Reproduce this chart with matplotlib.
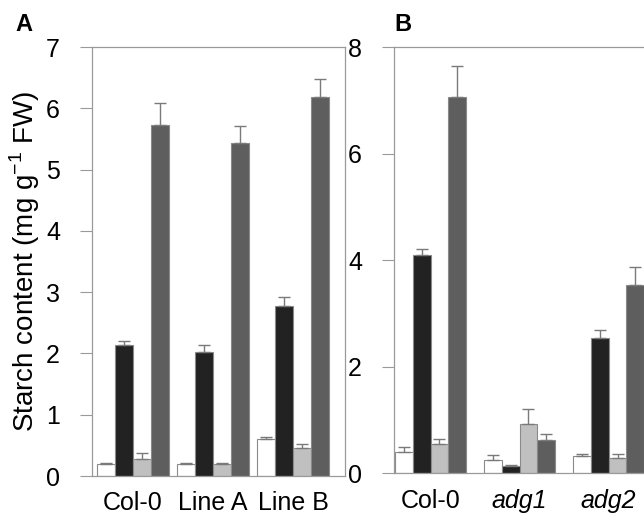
import matplotlib
matplotlib.use('Agg')
import matplotlib.pyplot as plt
import numpy as np

plt.rcParams['font.family'] = ['Liberation Sans', 'DejaVu Sans']

# panel A
labels_a = ['Col-0', 'Line A', 'Line B']
white_a = [0.20, 0.20, 0.60]
black_a = [2.13, 2.03, 2.77]
light_a = [0.28, 0.20, 0.45]
dark_a = [5.72, 5.43, 6.18]
white_a_err = [0.02, 0.01, 0.04]
black_a_err = [0.08, 0.10, 0.15]
light_a_err = [0.09, 0.01, 0.07]
dark_a_err = [0.36, 0.28, 0.30]

# panel B
labels_b = ['Col-0', 'adg1', 'adg2']
white_b = [0.39, 0.24, 0.32]
black_b = [4.10, 0.14, 2.53]
light_b = [0.55, 0.93, 0.28]
dark_b = [7.06, 0.62, 3.54]
white_b_err = [0.10, 0.10, 0.04]
black_b_err = [0.10, 0.02, 0.15]
light_b_err = [0.09, 0.28, 0.09]
dark_b_err = [0.58, 0.11, 0.33]

colors = ['white', '#222222', '#c0c0c0', '#5e5e5e']
edge = '#8a8a8a'
spine_col = '#9a9a9a'

fig = plt.figure(figsize=(6.44, 5.16), dpi=100)
axA = fig.add_axes([0.1429, 0.0775, 0.3929, 0.8314])
axB = fig.add_axes([0.6118, 0.0828, 0.3913, 0.8261])


def draw(ax, series, errs, labels, w, ymax, yticks, italic):
    x = np.arange(len(labels))
    for i, (vals, err) in enumerate(zip(series, errs)):
        pos = x + (i - 1.5) * w
        ax.bar(pos, vals, w, color=colors[i], edgecolor=edge, linewidth=0.8,
               yerr=[np.zeros(len(err)), err],
               error_kw=dict(ecolor='#7a7a7a', elinewidth=1.0, capsize=4, capthick=1.0))
    ax.set_ylim(0, ymax)
    ax.set_yticks(yticks)
    ax.set_xticks(x)
    ax.set_xticklabels(labels, fontsize=18)
    if italic:
        for t in ax.get_xticklabels()[1:]:
            t.set_style('italic')
    ax.tick_params(axis='x', length=0, pad=11)
    ax.tick_params(axis='y', direction='out', length=9, width=0.8, color=spine_col,
                   labelsize=18, pad=14)
    for s in ax.spines.values():
        s.set_color(spine_col)
        s.set_linewidth(0.9)


draw(axA, [white_a, black_a, light_a, dark_a],
     [white_a_err, black_a_err, light_a_err, dark_a_err],
     labels_a, 0.225, 7, range(0, 8), False)
axA.set_xlim(-0.51, 2.65)
axA.set_ylabel('Starch content (mg g$^{\\mathregular{-1}}$ FW)', fontsize=20, labelpad=3)

draw(axB, [white_b, black_b, light_b, dark_b],
     [white_b_err, black_b_err, light_b_err, dark_b_err],
     labels_b, 0.2, 8, range(0, 9, 2), True)
axB.set_xlim(-0.41, 2.42)

fig.text(0.024, 0.953, 'A', fontsize=17, fontweight='bold', ha='left', va='center')
fig.text(0.612, 0.953, 'B', fontsize=17, fontweight='bold', ha='left', va='center')

fig.savefig('out.png', dpi=100)
